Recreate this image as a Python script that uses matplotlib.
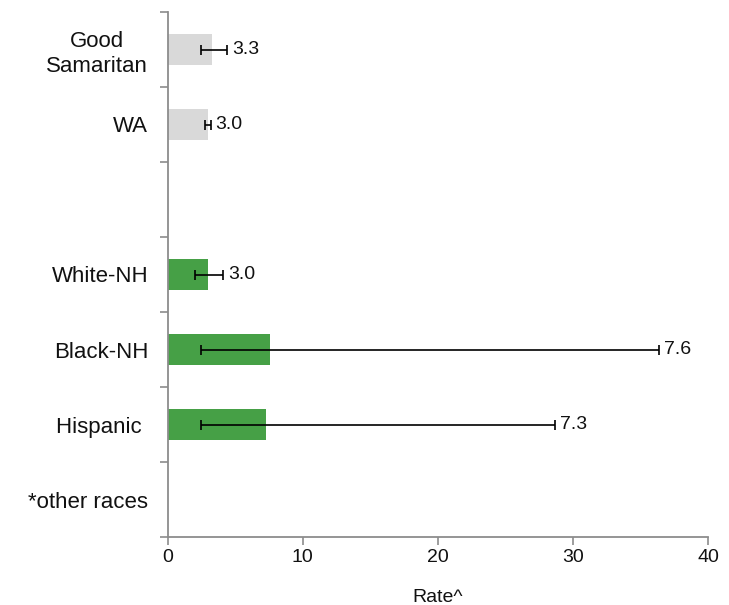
import numpy as np
import matplotlib
matplotlib.use("Agg")
import matplotlib.pyplot as plt
from matplotlib.ticker import FixedLocator

plt.rcParams['font.family'] = ['Liberation Sans', 'DejaVu Sans']

categories = ["Good\nSamaritan", "WA", "", "White-NH", "Black-NH", "Hispanic ", "*other races"]
values = [3.3, 3.0, np.nan, 3.0, 7.6, 7.3, np.nan]
lower = [2.5, 2.8, np.nan, 2.0, 2.5, 2.5, np.nan]
upper = [4.4, 3.2, np.nan, 4.1, 36.4, 28.7, np.nan]
labels = ["3.3", "3.0", "", "3.0", "7.6", "7.3", ""]
groups = ["ref", "ref", "none", "race", "race", "race", "race"]
x_ticks = [0, 10, 20, 30, 40]

color_map = {"ref": "#D9D9D9", "race": "#46A046", "none": "white"}

fig = plt.figure(figsize=(7.29, 6.05), dpi=100)
ax = fig.add_axes([167.5 / 729, 1 - 537 / 605, (708 - 167.5) / 729, (537 - 12) / 605])

y = np.arange(len(categories))
vals = np.array(values, dtype=float)
lo = np.array(lower, dtype=float)
hi = np.array(upper, dtype=float)

for i in range(len(categories)):
    if np.isnan(vals[i]):
        continue
    ax.barh(y[i], vals[i], height=0.41, color=color_map[groups[i]], zorder=2)
    ax.errorbar(vals[i], y[i], xerr=[[vals[i] - lo[i]], [hi[i] - vals[i]]],
                fmt='none', ecolor='black', elinewidth=1.2, capsize=3.8,
                capthick=1.2, zorder=3)
    ax.annotate(labels[i], xy=(hi[i], y[i]), xytext=(3.5, 0), textcoords='offset points',
                ha='left', va='center', fontsize=14, color='#111111')

ax.set_ylim(len(categories) - 0.5, -0.5)
ax.set_xlim(0, 40)

ax.set_yticks(y)
ax.set_yticklabels(categories, fontsize=16, multialignment='center', color='#111111',
                   linespacing=1.25)
ax.yaxis.set_minor_locator(FixedLocator(np.arange(-0.5, len(categories), 1.0)))
ax.tick_params(axis='y', which='major', length=0, pad=14)
ax.tick_params(axis='y', which='minor', length=6, width=1.2, color='#8C8C8C', direction='out')

ax.set_xticks(x_ticks)
ax.set_xticklabels([str(t) for t in x_ticks], fontsize=14, color='#111111')
ax.tick_params(axis='x', which='major', length=6, width=1.2, color='#8C8C8C', direction='out', pad=3)

for side in ['top', 'right']:
    ax.spines[side].set_visible(False)
for side in ['left', 'bottom']:
    ax.spines[side].set_color('#8C8C8C')
    ax.spines[side].set_linewidth(1.3)

ax.set_xlabel("Rate^", fontsize=14, color='#111111')
ax.xaxis.set_label_coords(0.5, (537 - 597) / 525)
ax.xaxis.label.set_va('center')

fig.savefig("out.png", dpi=100)
